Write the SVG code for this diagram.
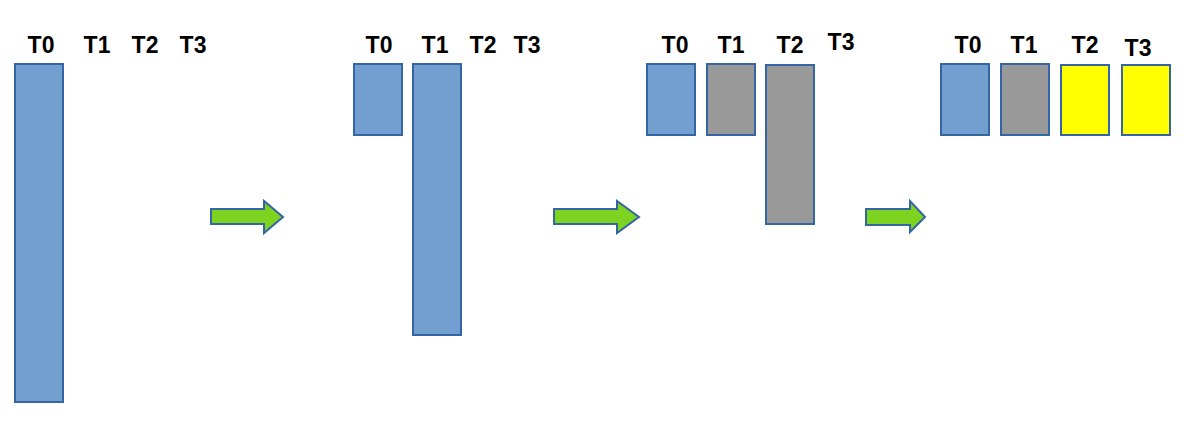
<svg xmlns="http://www.w3.org/2000/svg" width="1198" height="440" viewBox="0 0 1198 440">
<style>
.lbl{font-family:"Liberation Sans",Arial,sans-serif;font-weight:bold;font-size:23px;fill:#000;text-anchor:middle}
.b{fill:#729fcf;stroke:#3465a4;stroke-width:2}
.g{fill:#999999;stroke:#3465a4;stroke-width:2}
.y{fill:#ffff00;stroke:#3465a4;stroke-width:2}
.arr{fill:#7ed321;stroke:#3465a4;stroke-width:2;stroke-linejoin:miter}
</style>
<rect width="1198" height="440" fill="#ffffff"/>
<g id="panel1">
  <text class="lbl" x="41" y="53">T0</text>
  <text class="lbl" x="97" y="53">T1</text>
  <text class="lbl" x="145" y="53">T2</text>
  <text class="lbl" x="193" y="53">T3</text>
  <rect id="p1-t0" class="b" x="15" y="64" width="48" height="338"/>
</g>
<g id="panel2">
  <text class="lbl" x="379" y="53">T0</text>
  <text class="lbl" x="435" y="53">T1</text>
  <text class="lbl" x="483" y="53">T2</text>
  <text class="lbl" x="527" y="53">T3</text>
  <rect id="p2-t0" class="b" x="354" y="64" width="48" height="71"/>
  <rect id="p2-t1" class="b" x="413" y="64" width="48" height="271"/>
</g>
<g id="panel3">
  <text class="lbl" x="675" y="53">T0</text>
  <text class="lbl" x="731" y="53">T1</text>
  <text class="lbl" x="790" y="53">T2</text>
  <text class="lbl" x="841" y="50">T3</text>
  <rect id="p3-t0" class="b" x="647" y="64" width="48" height="71"/>
  <rect id="p3-t1" class="g" x="707" y="64" width="48" height="71"/>
  <rect id="p3-t2" class="g" x="766" y="65" width="48" height="159"/>
</g>
<g id="panel4">
  <text class="lbl" x="968" y="53">T0</text>
  <text class="lbl" x="1024" y="53">T1</text>
  <text class="lbl" x="1085" y="53">T2</text>
  <text class="lbl" x="1138" y="56">T3</text>
  <rect id="p4-t0" class="b" x="941" y="64" width="48" height="71"/>
  <rect id="p4-t1" class="g" x="1001" y="64" width="48" height="71"/>
  <rect id="p4-t2" class="y" x="1061" y="65" width="48" height="70"/>
  <rect id="p4-t3" class="y" x="1122" y="65" width="48" height="70"/>
</g>
<g id="connectors">
  <path class="arr" d="M211,209 H264 V201 L283,217 L264,233 V224 H211 Z"/>
  <path class="arr" d="M554,209 H617 V201 L639,217 L617,233 V224 H554 Z"/>
  <path class="arr" d="M866,209 H910 V201 L925,217 L910,232 V225 H866 Z"/>
</g>
</svg>
